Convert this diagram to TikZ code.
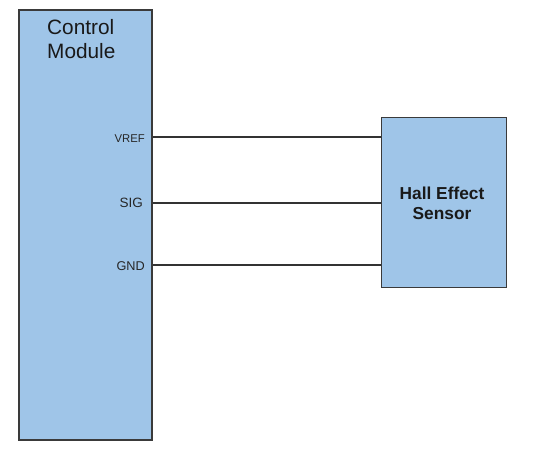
\documentclass[tikz,border=0pt]{standalone}
\usepackage{fontspec}
\setmainfont{Liberation Sans}
\definecolor{boxfill}{HTML}{9FC5E8}
\definecolor{boxline}{HTML}{3A3A3A}
\begin{document}
\begin{tikzpicture}[x=1pt,y=-1pt,
  block/.style={draw=boxline,line width=1.3pt,fill=boxfill,inner sep=0pt},
  pinlabel/.style={anchor=base east,inner sep=0pt,text=black!85},
  wire/.style={draw=black!80,line width=1.4pt}]
\useasboundingbox (0,0) rectangle (544,454);
\node[block,minimum width=133pt,minimum height=430pt] (control) at (85.5,225) {};
\node[block,minimum width=125pt,minimum height=170pt] (hall) at (444,202.5) {};
\node[anchor=base west,inner sep=0pt,align=left,font=\fontsize{20.8}{24}\selectfont,text=black!90] (title) at (47,59) {Control\\Module};
\node[align=center,inner sep=0pt,font=\bfseries\fontsize{17.3}{20}\selectfont,text=black!90] (hallt) at (442,203) {Hall Effect\\Sensor};
\node[pinlabel,font=\fontsize{11.3}{13}\selectfont] (vref) at (145,143) {VREF};
\node[pinlabel,font=\fontsize{13.5}{15}\selectfont] (sig) at (143,207.5) {SIG};
\node[pinlabel,font=\fontsize{12.7}{14}\selectfont] (gnd) at (145,270.5) {GND};
\coordinate (c1) at (152,137);
\coordinate (c2) at (152,203);
\coordinate (c3) at (152,265);
\draw[wire] (control.east |- c1) -- (hall.west |- c1);
\draw[wire] (control.east |- c2) -- (hall.west |- c2);
\draw[wire] (control.east |- c3) -- (hall.west |- c3);
\end{tikzpicture}
\end{document}
